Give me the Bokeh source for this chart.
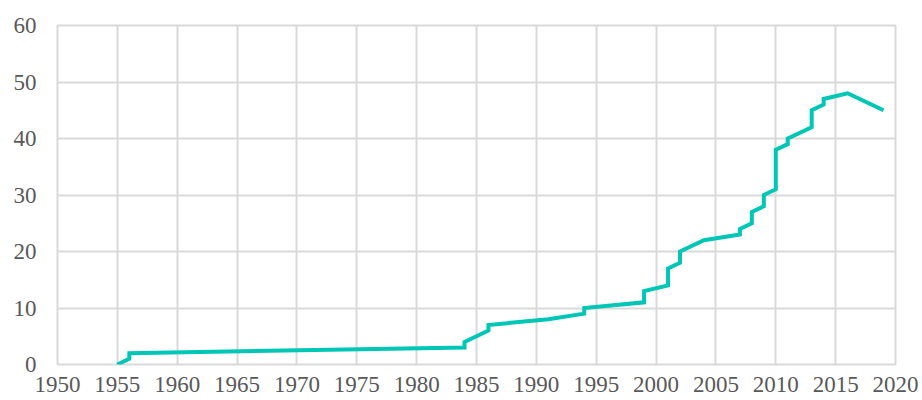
from bokeh.plotting import figure
from bokeh.models import Range1d, FixedTicker
from bokeh.embed import file_html
from bokeh.resources import INLINE

years = [1955, 1956, 1956, 1984, 1984, 1986, 1986, 1991, 1994, 1994, 1999, 1999,
         2001, 2001, 2002, 2002, 2004, 2007, 2007, 2008, 2008, 2009, 2009, 2010,
         2010, 2011, 2011, 2013, 2013, 2014, 2014, 2016, 2019]
values = [0, 1, 2, 3, 4, 6, 7, 8, 9, 10, 11, 13,
          14, 17, 18, 20, 22, 23, 24, 25, 27, 28, 30, 31,
          38, 39, 40, 42, 45, 46, 47, 48, 45]
x_ticks = list(range(1950, 2021, 5))
y_ticks = list(range(0, 61, 10))

p = figure(width=922, height=400, output_backend="svg", toolbar_location=None,
           x_range=Range1d(1950, 2020), y_range=Range1d(0, 60),
           min_border_left=57, min_border_right=27, min_border_top=25, min_border_bottom=36)
p.outline_line_color = "#D9D9D9"
p.outline_line_width = 2
p.background_fill_color = "white"
p.border_fill_color = "white"

p.line(years, values, line_color="#00C6B6", line_width=4, line_join="miter")

p.xaxis.ticker = FixedTicker(ticks=x_ticks)
p.yaxis.ticker = FixedTicker(ticks=y_ticks)
for ax in (p.xaxis, p.yaxis):
    ax.axis_line_color = None
    ax.major_tick_line_color = None
    ax.minor_tick_line_color = None
    ax.major_tick_out = 0
    ax.major_tick_in = 0
    ax.major_label_text_font = "Liberation Serif"
    ax.major_label_text_font_size = "23px"
    ax.major_label_text_color = "#595959"
p.yaxis.major_label_standoff = 21
p.xaxis.major_label_standoff = 12

p.xgrid.grid_line_color = "#D9D9D9"
p.ygrid.grid_line_color = "#D9D9D9"
p.xgrid.grid_line_width = 2
p.ygrid.grid_line_width = 2

open("out.html", "w").write(file_html(p, INLINE))
